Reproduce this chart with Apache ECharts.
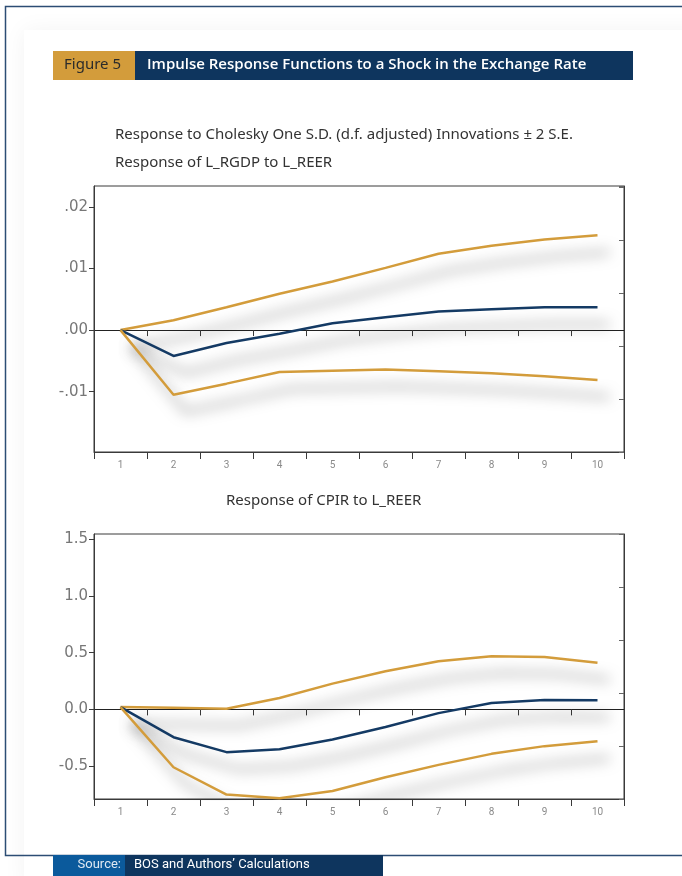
<!DOCTYPE html>
<html>
<head>
<meta charset="utf-8">
<title>Figure 5</title>
<script src="https://cdn.jsdelivr.net/npm/echarts@6/dist/echarts.min.js"></script>
<style>
  html, body { margin: 0; padding: 0; background: #fff; }
  #main { width: 682px; height: 876px; }
</style>
</head>
<body>
<div id="main"></div>
<script>
  // periods after the shock
  const steps = ['1', '2', '3', '4', '5', '6', '7', '8', '9', '10']

  // Response of L_RGDP to L_REER
  const rgdpUpper = [0, 0.0016, 0.0037, 0.0059, 0.0079, 0.0101, 0.0124, 0.0137, 0.0147, 0.0154]
  const rgdpResp = [0, -0.0042, -0.0021, -0.0006, 0.0011, 0.0021, 0.0030, 0.0034, 0.0037, 0.0037]
  const rgdpLower = [0, -0.0105, -0.0087, -0.0068, -0.0066, -0.0064, -0.0067, -0.0070, -0.0075, -0.0081]
  const rgdpTicks = [-0.01, 0, 0.01, 0.02]

  // Response of CPIR to L_REER
  const cpirUpper = [0.02, 0.015, 0.005, 0.10, 0.227, 0.336, 0.424, 0.468, 0.462, 0.412]
  const cpirResp = [0.02, -0.245, -0.377, -0.351, -0.265, -0.156, -0.033, 0.056, 0.082, 0.08]
  const cpirLower = [0.02, -0.51, -0.751, -0.783, -0.72, -0.598, -0.489, -0.392, -0.324, -0.28]
  const cpirTicks = [-0.5, 0, 0.5, 1.0, 1.5]

  const gold = '#d39c3b'
  const navy = '#143a64'
  const axisColor = '#3a3a3a'
  const narrow = '"Liberation Sans Narrow", "Roboto", sans-serif'
  const titleFont = { fontSize: 15, fontWeight: 'normal', color: '#333', fontFamily: '"Noto Sans", sans-serif' }

  function rgdpLabel(v) {
    if (v === 0) return '.00'
    return (v < 0 ? '-' : '') + Math.abs(v).toFixed(2).slice(1)
  }

  function bottomAxis(gridIndex) {
    return {
      type: 'category', gridIndex: gridIndex, data: steps, position: 'bottom',
      boundaryGap: true,
      axisLine: { onZero: false, lineStyle: { color: axisColor } },
      axisTick: { show: true, interval: 0, length: 7, lineStyle: { color: axisColor } },
      axisLabel: { interval: 0, fontSize: 10, color: '#8a8a8a', margin: 8, fontFamily: narrow }
    }
  }

  // the zero line, with its ticks hanging below it
  function zeroAxis(gridIndex, yIndex) {
    return {
      type: 'category', gridIndex: gridIndex, data: steps, position: 'bottom',
      boundaryGap: true,
      axisLine: { show: true, onZero: true, onZeroAxisIndex: yIndex, lineStyle: { color: '#222' } },
      axisTick: { show: true, interval: 0, length: 6, lineStyle: { color: axisColor } },
      axisLabel: { show: false }
    }
  }

  function leftAxis(gridIndex, min, max, ticks, fmt) {
    return {
      type: 'value', gridIndex: gridIndex, position: 'left', min: min, max: max,
      splitLine: { show: false },
      axisLine: { show: true, lineStyle: { color: axisColor } },
      axisTick: { show: true, length: 5, customValues: ticks, lineStyle: { color: axisColor } },
      axisLabel: {
        customValues: ticks, formatter: fmt, fontSize: 15, color: '#777',
        fontFamily: '"DejaVu Sans", Verdana, sans-serif', margin: 6
      }
    }
  }

  function rightAxis(gridIndex, max) {
    return {
      type: 'value', gridIndex: gridIndex, position: 'right', min: 0, max: max, interval: 1,
      splitLine: { show: false },
      axisLine: { show: true, lineStyle: { color: axisColor } },
      axisTick: { show: true, inside: true, length: 5, lineStyle: { color: '#666' } },
      axisLabel: { show: false }
    }
  }

  function band(name, data, color, xIndex, yIndex) {
    return {
      name: name, type: 'line', data: data, xAxisIndex: xIndex, yAxisIndex: yIndex,
      showSymbol: false, symbol: 'none', silent: true, z: 3,
      lineStyle: {
        color: color, width: 2.5,
        shadowColor: 'rgba(0,0,0,0.55)', shadowBlur: 14, shadowOffsetX: 12, shadowOffsetY: 17
      }
    }
  }

  const chart = echarts.init(document.getElementById('main'), null, { renderer: 'canvas' })

  chart.setOption({
    animation: false,
    backgroundColor: '#fff',
    title: [
      {
        text: 'Response to Cholesky One S.D. (d.f. adjusted) Innovations ± 2 S.E.',
        left: 115, top: 127, padding: 0, textStyle: titleFont
      },
      {
        text: 'Response of L_RGDP to L_REER',
        left: 115, top: 155, padding: 0, textStyle: titleFont
      },
      {
        text: 'Response of CPIR to L_REER',
        left: 226, top: 493, padding: 0, textStyle: titleFont
      }
    ],
    graphic: [
      // faint page shadow inside the frame
      {
        type: 'rect', left: 24, top: 30, z: -10, silent: true,
        shape: { width: 700, height: 860 },
        style: { fill: '#fff', shadowBlur: 22, shadowColor: 'rgba(0,0,0,0.05)' }
      },
      // frame
      {
        type: 'polyline', z: 10, silent: true,
        shape: { points: [[690, 6.5], [5.5, 6.5], [5.5, 855.5], [690, 855.5]] },
        style: { stroke: '#2c4d74', lineWidth: 1.5, fill: null }
      },
      // header bar
      {
        type: 'rect', left: 53, top: 51, z: 10, silent: true,
        shape: { width: 82, height: 29 }, style: { fill: '#d39c3b' }
      },
      {
        type: 'rect', left: 135, top: 51, z: 10, silent: true,
        shape: { width: 498, height: 29 }, style: { fill: '#0e355e' }
      },
      {
        type: 'text', left: 64, top: 57, z: 11, silent: true,
        style: { text: 'Figure 5', fill: '#2b2b2b', font: '15px "Noto Sans", sans-serif' }
      },
      {
        type: 'text', left: 147, top: 57, z: 11, silent: true,
        style: { text: 'Impulse Response Functions to a Shock in the Exchange Rate', fill: '#fff', font: '600 15px "Open Sans", sans-serif' }
      },
      // source bar
      {
        type: 'rect', left: 53, top: 855, z: 10, silent: true,
        shape: { width: 72, height: 21 }, style: { fill: '#0b5a9c' }
      },
      {
        type: 'rect', left: 125, top: 855, z: 10, silent: true,
        shape: { width: 258, height: 21 }, style: { fill: '#0e355e' }
      },
      {
        type: 'text', x: 121, y: 858, z: 11, silent: true,
        style: { text: 'Source:', fill: '#dfe8f2', align: 'right', font: '13px ' + narrow }
      },
      {
        type: 'text', left: 134, top: 858, z: 11, silent: true,
        style: { text: 'BOS and Authors\u2019 Calculations', fill: '#fff', font: '13px ' + narrow }
      }
    ],
    grid: [
      { left: 94, top: 186, width: 530, height: 266, show: true, borderColor: axisColor, borderWidth: 1, backgroundColor: 'transparent' },
      { left: 94, top: 534, width: 530, height: 265, show: true, borderColor: axisColor, borderWidth: 1, backgroundColor: 'transparent' }
    ],
    xAxis: [
      bottomAxis(0),
      zeroAxis(0, 0),
      bottomAxis(1),
      zeroAxis(1, 2)
    ],
    yAxis: [
      leftAxis(0, -0.0198, 0.0234, rgdpTicks, rgdpLabel),
      rightAxis(0, 266 / 53),
      leftAxis(1, -0.79, 1.546, cpirTicks, function(v) { return v.toFixed(1) }),
      rightAxis(1, 265 / 53)
    ],
    series: [
      band('RGDP +2 S.E.', rgdpUpper, gold, 0, 0),
      band('RGDP response', rgdpResp, navy, 0, 0),
      band('RGDP -2 S.E.', rgdpLower, gold, 0, 0),
      band('CPIR +2 S.E.', cpirUpper, gold, 2, 2),
      band('CPIR response', cpirResp, navy, 2, 2),
      band('CPIR -2 S.E.', cpirLower, gold, 2, 2)
    ]
  })
</script>
</body>
</html>
